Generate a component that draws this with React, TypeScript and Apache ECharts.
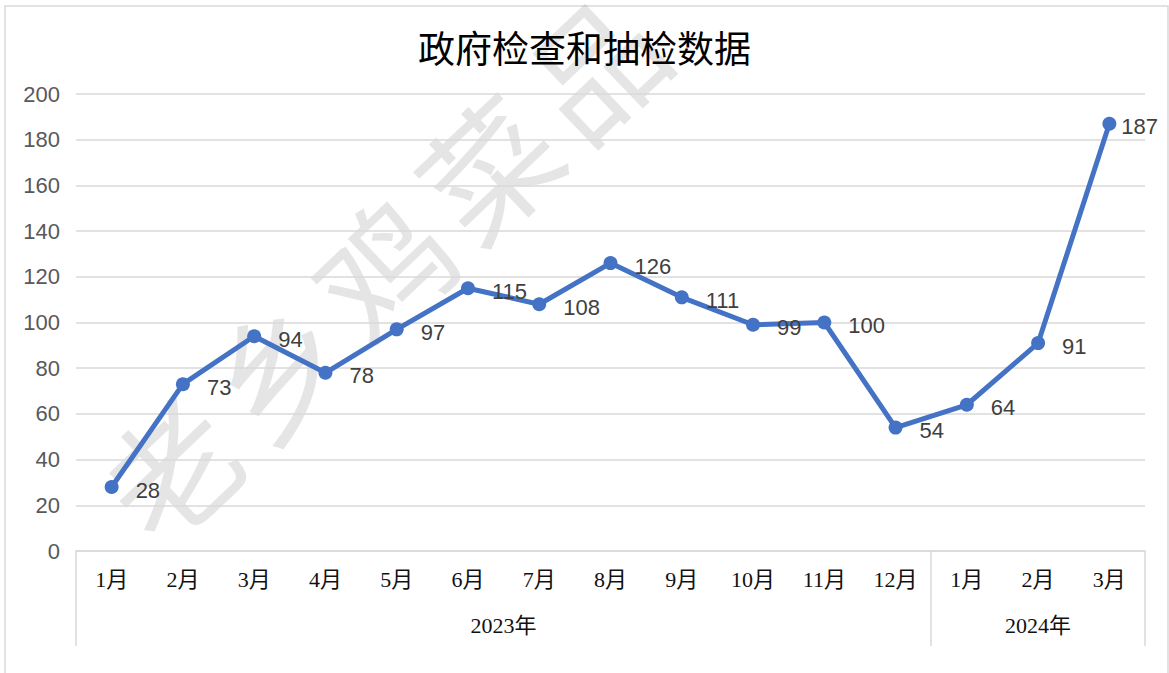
import React, { useEffect, useRef } from "react";
import * as echarts from "echarts";

const titleText = "政府检查和抽检数据";
const months = ["1月", "2月", "3月", "4月", "5月", "6月", "7月", "8月", "9月", "10月", "11月", "12月", "1月", "2月", "3月"];
const values = [28, 73, 94, 78, 97, 115, 108, 126, 111, 99, 100, 54, 64, 91, 187];
const yearNames = ["2023年", "2024年"];
const yearCounts = [12, 3];
const yTicks = { min: 0, max: 200, interval: 20 };
const watermarkChars = ["老", "乡", "鸡", "菜", "品"];

export default function App() {
  const ref = useRef<HTMLDivElement>(null);
  useEffect(() => {
    document.body.style.margin = "0";
    const chart = echarts.init(ref.current!, null, { renderer: "svg" });

    const bounds: number[] = [0];
    const centers: number[] = [];
    let acc = 0;
    yearCounts.forEach((c) => {
      centers.push(acc + c / 2);
      acc += c;
      bounds.push(acc);
    });

    const sansFont = "'Liberation Sans', Arial, 'Noto Sans CJK SC', sans-serif";
    const serifFont = "'Liberation Serif', 'Times New Roman', 'Noto Sans CJK SC', serif";

    chart.setOption({
      animation: false,
      backgroundColor: "#ffffff",
      title: {
        text: titleText,
        left: "center",
        top: 27,
        textStyle: { fontSize: 37, fontWeight: "normal", color: "#000", fontFamily: serifFont },
      },
      grid: { left: 76, right: 24, top: 94, bottom: 122, containLabel: false },
      graphic: [
        {
          type: "rect",
          z: -10,
          silent: true,
          shape: { x: 5, y: 6, width: 1163, height: 690 },
          style: { fill: "none", stroke: "#d9d9d9", lineWidth: 1.5 },
        },
        {
          type: "group",
          x: 168,
          y: 466,
          rotation: 0.76,
          z: -5,
          silent: true,
          children: watermarkChars.map((ch, i) => ({
            type: "text",
            x: i * 146,
            y: 0,
            style: {
              text: ch,
              fontSize: 132,
              fontFamily: "'Noto Sans CJK SC', sans-serif",
              fill: "rgba(160,160,160,0.28)",
              align: "center",
              verticalAlign: "middle",
            },
          })),
        },
      ],
      xAxis: [
        {
          type: "category",
          data: months,
          boundaryGap: true,
          axisLine: { show: true, lineStyle: { color: "#d9d9d9", width: 1.5 } },
          axisTick: { show: false },
          axisLabel: { interval: 0, fontSize: 22, color: "#111", fontFamily: serifFont, margin: 17 },
          splitLine: { show: false },
        },
        {
          type: "value",
          min: 0,
          max: months.length,
          position: "bottom",
          axisLine: { show: false },
          axisTick: {
            show: true,
            customValues: bounds,
            length: 95,
            lineStyle: { color: "#d9d9d9", width: 1.5 },
          },
          axisLabel: {
            show: true,
            customValues: centers,
            formatter: (v: number) => {
              const idx = centers.findIndex((c) => Math.abs(c - v) < 1e-6);
              return idx >= 0 ? yearNames[idx] : "";
            },
            fontSize: 22,
            color: "#111",
            fontFamily: serifFont,
            margin: 63,
          },
          splitLine: { show: false },
        },
      ],
      yAxis: {
        type: "value",
        min: yTicks.min,
        max: yTicks.max,
        interval: yTicks.interval,
        axisLine: { show: false },
        axisTick: { show: false },
        axisLabel: { fontSize: 22, color: "#595959", fontFamily: sansFont, margin: 16 },
        splitLine: { lineStyle: { color: "#d9d9d9", width: 1.5 } },
      },
      series: [
        {
          type: "line",
          xAxisIndex: 0,
          data: values.map((v, i) =>
            i === values.length - 1 ? { value: v, label: { distance: 5 } } : v
          ),
          symbol: "circle",
          symbolSize: 14,
          lineStyle: { color: "#4472C4", width: 5 },
          itemStyle: { color: "#4472C4" },
          label: {
            show: true,
            position: "right",
            distance: 17,
            fontSize: 22,
            color: "#404040",
            fontFamily: sansFont,
            offset: [0, 3],
          },
          z: 3,
        },
      ],
    });
    return () => chart.dispose();
  }, []);
  return <div ref={ref} style={{ width: 1169, height: 673 }} />;
}
